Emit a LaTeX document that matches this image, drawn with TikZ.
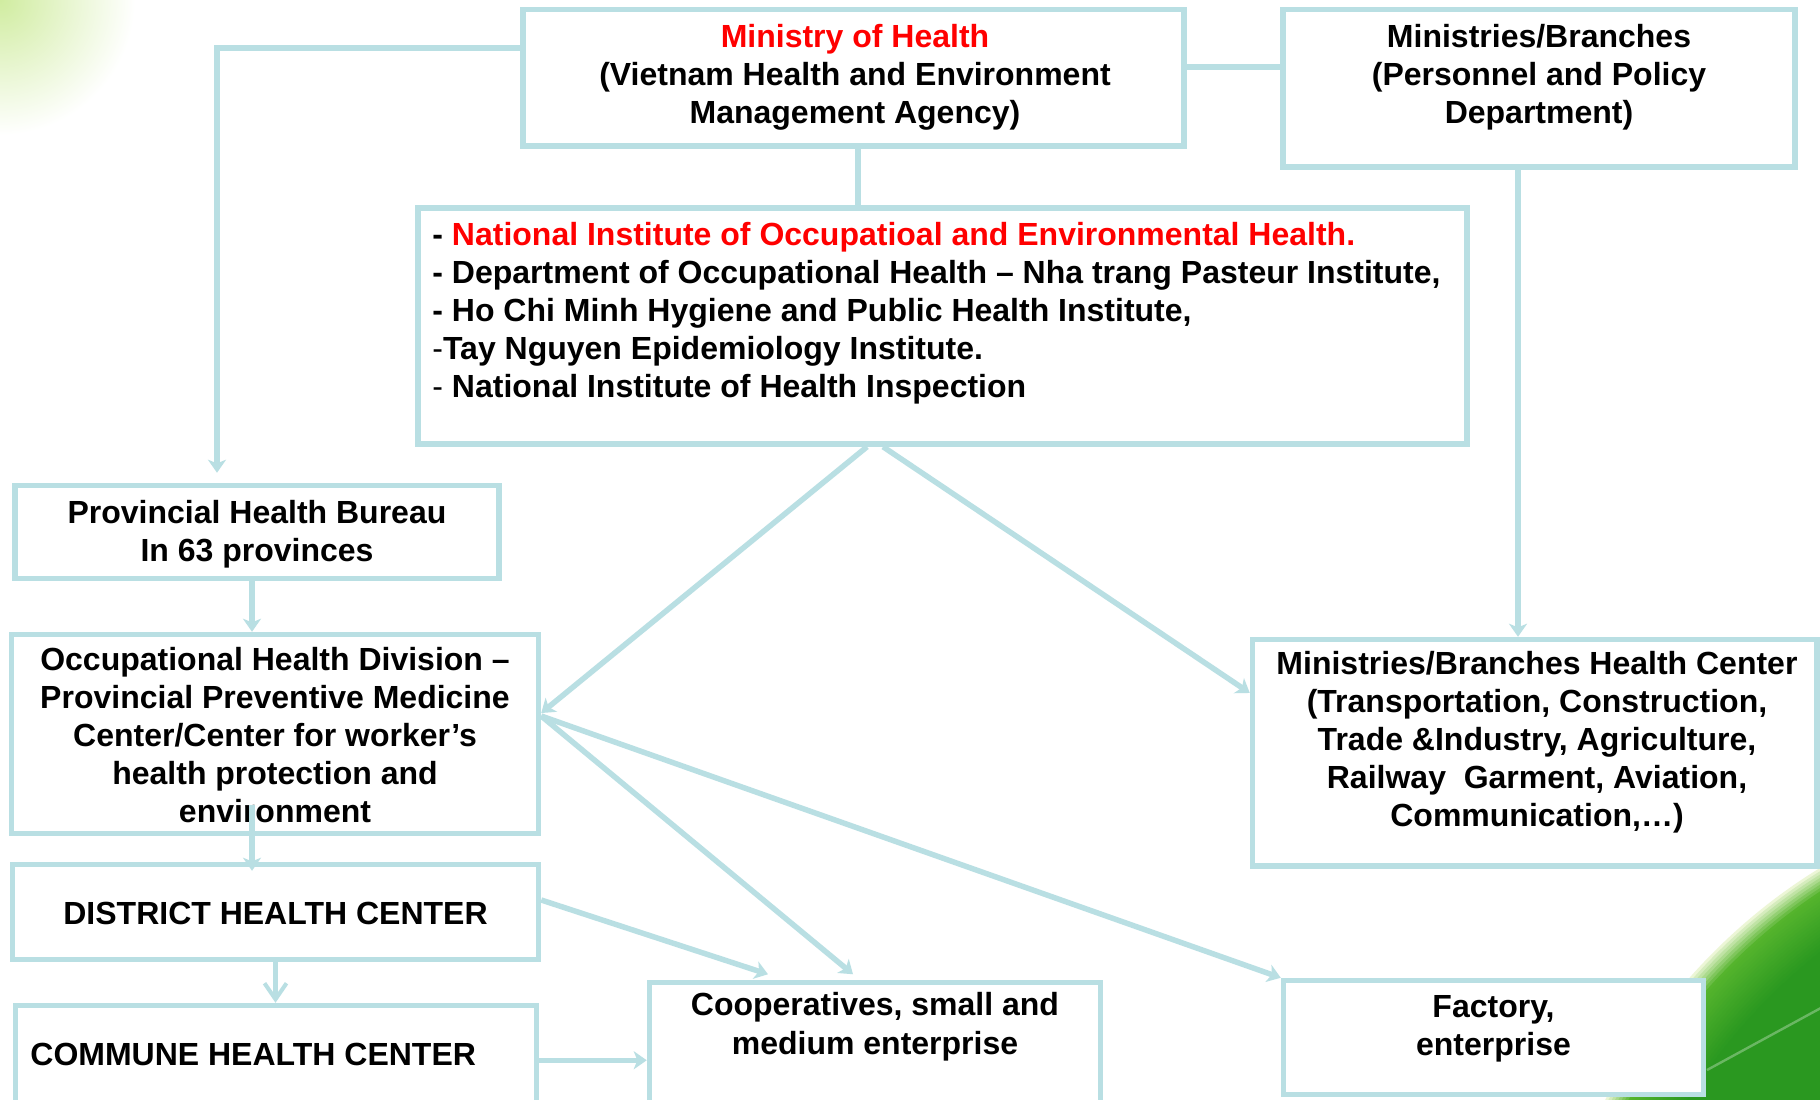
\documentclass[tikz,border=0pt]{standalone}
\usepackage{fontspec}
\setmainfont{Liberation Sans}
\usetikzlibrary{arrows.meta,calc}
\definecolor{boxc}{RGB}{185,223,227}
\definecolor{redt}{RGB}{255,0,0}
\definecolor{swA}{RGB}{236,246,214}
\definecolor{swB}{RGB}{85,180,45}
\definecolor{swC}{RGB}{42,152,32}
\definecolor{glow}{RGB}{208,236,160}
\newcommand{\ctab}[1]{\begin{tabular}[t]{@{}c@{}}#1\end{tabular}}
\newcommand{\ltab}[1]{\begin{tabular}[t]{@{}l@{}}#1\end{tabular}}
\begin{document}
\begin{tikzpicture}[x=0.5pt,y=-0.5pt,
  box/.style={draw=boxc, line width=2.75pt, fill=white, inner sep=0pt, rectangle},
  txt/.style={inner sep=0pt, font=\fontsize{16}{19}\selectfont\bfseries, anchor=base},
  conn/.style={draw=boxc, line width=2.75pt},
  arr/.style={conn, -{Stealth[length=6.5pt,width=9pt,inset=1.8pt]}},
  oarr/.style={conn, -{Straight Barb[length=8pt,width=11pt,line width=2pt]}},
]
\useasboundingbox (0,0) rectangle (1820,1099);
\fill[white] (0,0) rectangle (1820,1099);
% background decoration
\begin{scope}
\clip (0,0) rectangle (1820,1099);
\shade[inner color=glow, outer color=white] (0,0) circle (135);
\foreach \i in {0,...,24}{
  \pgfmathsetmacro{\dx}{\i*3*0.77}
  \pgfmathsetmacro{\dy}{\i*3*0.63}
  \ifnum\i<8
    \pgfmathtruncatemacro{\pc}{100-\i*100/7}
    \colorlet{swcur}{swA!\pc!swB}
  \else
    \pgfmathtruncatemacro{\pc}{100-(\i-7)*100/17}
    \colorlet{swcur}{swB!\pc!swC}
  \fi
  \fill[swcur, shift={(\dx,\dy)}] (1600,1110) .. controls (1650,1010) and (1730,920) .. (1830,862) -- (1900,862) -- (1900,1200) -- (1500,1200) -- cycle;
}
\draw[white, opacity=0.3, line width=1.2pt] (1707,1070) -- (1830,1003);
\end{scope}
% boxes
\node[box, minimum width=330.5pt, minimum height=68.25pt] (moh) at (853.5,77.75) {};
\node[box, minimum width=256pt, minimum height=78.75pt] (mb) at (1539,88.25) {};
\node[box, minimum width=524.5pt, minimum height=118pt] (inst) at (942.5,326) {};
\node[box, minimum width=242pt, minimum height=46.5pt] (prov) at (257,532) {};
\node[box, minimum width=263.5pt, minimum height=99.5pt] (ohd) at (275,734) {};
\node[box, minimum width=282.25pt, minimum height=113.25pt] (mbhc) at (1534.75,752.75) {};
\node[box, minimum width=263pt, minimum height=47.5pt] (dhc) at (275.5,912) {};
\node[box, minimum width=260.5pt, minimum height=54.75pt] (chc) at (276,1060.25) {};
\node[box, minimum width=225.5pt, minimum height=66.25pt] (coop) at (875,1048.75) {};
\node[box, minimum width=210pt, minimum height=57pt] (fac) at (1493.5,1037.5) {};
% texts
\node[txt] (mohT) at (855,47) {\ctab{\textcolor{redt}{Ministry of Health}\\(Vietnam Health and Environment\\Management Agency)}};
\node[txt] (mbT) at (1539,47) {\ctab{Ministries/Branches\\(Personnel and Policy\\Department)}};
\node[txt, anchor=base west] (instT) at (432,245) {\ltab{- \textcolor{redt}{National Institute of Occupatioal and Environmental Health.}\\- Department of Occupational Health – Nha trang Pasteur Institute,\\- Ho Chi Minh Hygiene and Public Health Institute,\\{\mdseries -}Tay Nguyen Epidemiology Institute.\\{\mdseries -} National Institute of Health Inspection}};
\node[txt] (provT) at (257,523) {\ctab{Provincial Health Bureau\\In 63 provinces}};
\node[txt] (ohdT) at (275,670) {\ctab{Occupational Health Division –\\Provincial Preventive Medicine\\Center/Center for worker’s\\health protection and\\environment}};
\node[txt] (mbhcT) at (1537,674) {\ctab{Ministries/Branches Health Center\\(Transportation, Construction,\\Trade \&Industry, Agriculture,\\Railway\ \ Garment, Aviation,\\Communication,…)}};
\node[txt] (dhcT) at (275.5,924) {DISTRICT HEALTH CENTER};
\node[txt, anchor=base west] (chcT) at (30,1065) {COMMUNE HEALTH CENTER};
\node[txt] (coopT) at (875,1015) {\renewcommand{\arraystretch}{1.05}\ctab{Cooperatives, small and\\medium enterprise}};
\node[txt] (facT) at (1493.5,1017) {\ctab{Factory,\\enterprise}};
% connectors
\coordinate (mohW) at ([yshift=14.9pt]moh.west);
\coordinate (provTop) at ([xshift=-20pt,yshift=5pt]prov.north);
\draw[arr] (mohW) -| (provTop);
\coordinate (mohE) at ([yshift=5.4pt]moh.east);
\draw[conn] (mohE) -- (mohE -| mb.west);
\coordinate (mohS) at ([xshift=2.25pt]moh.south);
\draw[conn] (mohS) -- (mohS |- inst.north);
\coordinate (mbS) at ([xshift=-10.5pt]mb.south);
\draw[arr] (mbS) -- (mbS |- mbhc.north);
\coordinate (provS) at ([xshift=-2.5pt]prov.south);
\draw[arr] (provS) -- (provS |- ohd.north);
\coordinate (ohdIn) at (252,805);
\draw[arr, shorten >=-4.5pt] (ohdIn) -- (ohdIn |- dhc.north);
\draw[oarr] (dhc.south) -- (dhc.south |- chc.north);
\draw[arr] (chc.east) -- (chc.east -| coop.west);
\draw[arr] ([xshift=-37.75pt]inst.south) -- ([yshift=10.5pt]ohd.east);
\draw[arr] ([xshift=-29.75pt]inst.south) -- ([yshift=29.9pt]mbhc.west);
\draw[arr] ([yshift=9pt]ohd.east) -- ([xshift=-11pt,yshift=2.75pt]coop.north);
\draw[arr] ([yshift=9pt]ohd.east) -- (fac.north west);
\draw[arr] ([yshift=6pt]dhc.east) -- ([xshift=-53.5pt,yshift=2.75pt]coop.north);
\end{tikzpicture}
\end{document}
